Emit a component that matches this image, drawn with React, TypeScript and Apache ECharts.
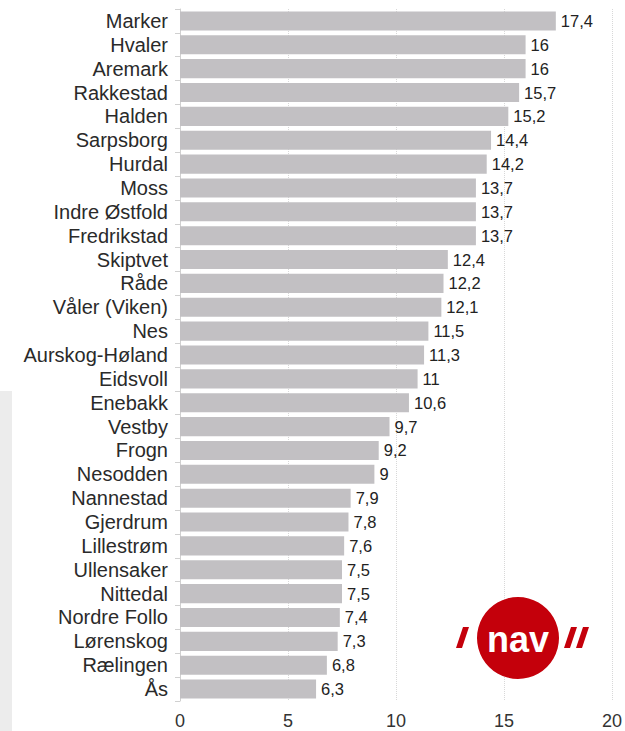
import React, { useEffect, useRef } from "react";
import * as echarts from "echarts";

const categories = [
  "Marker", "Hvaler", "Aremark", "Rakkestad", "Halden", "Sarpsborg", "Hurdal", "Moss",
  "Indre Østfold", "Fredrikstad", "Skiptvet", "Råde", "Våler (Viken)", "Nes",
  "Aurskog-Høland", "Eidsvoll", "Enebakk", "Vestby", "Frogn", "Nesodden", "Nannestad",
  "Gjerdrum", "Lillestrøm", "Ullensaker", "Nittedal", "Nordre Follo", "Lørenskog",
  "Rælingen", "Ås",
];
const values = [
  17.4, 16, 16, 15.7, 15.2, 14.4, 14.2, 13.7, 13.7, 13.7, 12.4, 12.2, 12.1, 11.5, 11.3,
  11, 10.6, 9.7, 9.2, 9, 7.9, 7.8, 7.6, 7.5, 7.5, 7.4, 7.3, 6.8, 6.3,
];
const xTicks = { min: 0, max: 20, interval: 5 };

const FONT = "Liberation Sans";

export default function App() {
  const ref = useRef<HTMLDivElement>(null);
  useEffect(() => {
    const chart = echarts.init(ref.current!, null, { renderer: "svg" });
    chart.setOption({
      animation: false,
      textStyle: { fontFamily: FONT },
      grid: { left: 180, right: 12, top: 9, bottom: 30, containLabel: false },
      xAxis: {
        type: "value",
        min: xTicks.min,
        max: xTicks.max,
        interval: xTicks.interval,
        axisLine: { show: false },
        axisTick: { show: false },
        axisLabel: { fontSize: 18, color: "#333", margin: 11, fontFamily: FONT },
        splitLine: { show: true, lineStyle: { type: "dotted", color: "#d8d8d8" } },
      },
      yAxis: {
        type: "category",
        inverse: true,
        data: categories,
        axisLine: { show: true, lineStyle: { color: "#d0d0d0" } },
        axisTick: { show: true, length: 5, interval: 0, lineStyle: { color: "#d0d0d0" } },
        axisLabel: { fontSize: 20, color: "#2a2a2a", margin: 12, interval: 0, fontFamily: FONT },
      },
      series: [
        {
          type: "bar",
          data: values,
          barCategoryGap: "20%",
          itemStyle: { color: "#c2c0c3" },
          label: {
            show: true,
            position: "right",
            distance: 5,
            fontSize: 16.5,
            color: "#222",
            fontFamily: FONT,
            formatter: (p: any) => String(p.value).replace(".", ","),
          },
        },
      ],
      graphic: [
        { type: "rect", shape: { x: 0, y: 391, width: 12, height: 340 }, style: { fill: "#ececec" }, z: -1 },
        { type: "circle", shape: { cx: 518, cy: 638, r: 41 }, style: { fill: "#c4000b" }, z: 10 },
        {
          type: "text",
          x: 518,
          y: 639,
          style: {
            text: "nav",
            fill: "#fff",
            font: "bold 36px Liberation Sans",
            align: "center",
            verticalAlign: "middle",
          },
          z: 11,
        },
        { type: "polygon", shape: { points: [[463, 627], [469, 627], [462, 648], [456, 648]] }, style: { fill: "#c4000b" }, z: 10 },
        { type: "polygon", shape: { points: [[571, 627], [577, 627], [570, 648], [564, 648]] }, style: { fill: "#c4000b" }, z: 10 },
        { type: "polygon", shape: { points: [[583, 627], [589, 627], [582, 648], [576, 648]] }, style: { fill: "#c4000b" }, z: 10 },
      ],
    });
    return () => chart.dispose();
  }, []);
  return <div ref={ref} style={{ width: 625, height: 731, position: "absolute", left: 0, top: 0 }} />;
}
